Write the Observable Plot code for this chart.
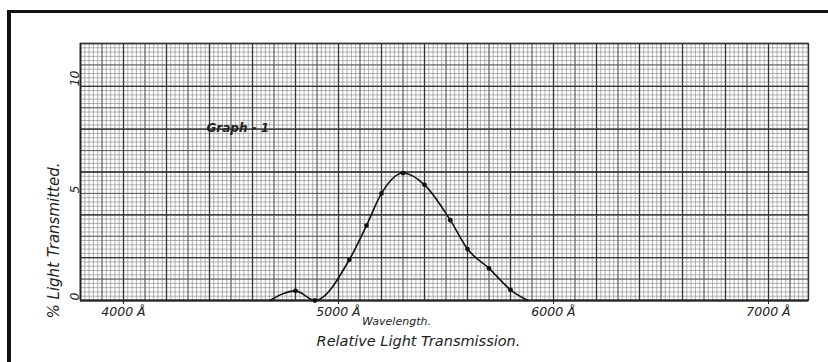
<!DOCTYPE html>
<html>
<head>
<meta charset="utf-8">
<script src="https://cdn.jsdelivr.net/npm/d3@7"></script>
<script src="https://cdn.jsdelivr.net/npm/@observablehq/plot@0.6"></script>
<style>
  body { margin: 0; background: #fff; }
  #wrap { position: relative; width: 828px; height: 362px; overflow: hidden; }
  #border { position: absolute; left: 7px; top: 10px; right: -10px; bottom: -10px;
            border-top: 3px solid #111; border-left: 4px solid #111; pointer-events: none; }
  svg { font-family: "DejaVu Sans", sans-serif; }
</style>
</head>
<body>
<div id="wrap"><div id="border"></div></div>
<script>
// Measured points (wavelength in Å, % light transmitted)
const wavelength   = [4680, 4800, 4890, 5050, 5130, 5200, 5300, 5400, 5520, 5600, 5700, 5800, 5880];
const transmission = [0,    0.45, 0,    1.9,  3.5,  5.0,  5.95, 5.4,  3.75, 2.4,  1.5,  0.5,  0];
const marked       = [false, true, true, true, true, true, true, true, true, true, true, true, false];

const xTicks = [4000, 5000, 6000, 7000];
const xTickLabels = ["4000 Å", "5000 Å", "6000 Å", "7000 Å"];
const yTicks = [0, 5, 10];
const yTickLabels = ["0", "5", "10"];

const xDomain = [3800, 7186];
const yDomain = [0, 12];

const curve = wavelength.map((w, i) => ({w, t: transmission[i], m: marked[i]}));
const dots = curve.filter(d => d.m);

const fineX = d3.range(3800, 7187, 20);
const midX = d3.range(3800, 7187, 100);
const heavyX = d3.range(3800, 7187, 200);
const fineY = d3.range(0, 12.001, 0.2);
const midY = d3.range(0, 12.001, 1);
const heavyY = d3.range(0, 12.001, 2);

const hand = {fontStyle: "italic", fill: "#222"};

const chart = Plot.plot({
  width: 828, height: 362,
  marginLeft: 80, marginRight: 20, marginTop: 43, marginBottom: 62,
  x: {domain: xDomain, axis: null},
  y: {domain: yDomain, axis: null},
  style: {background: "transparent", color: "#222"},
  marks: [
    Plot.ruleX(fineX, {stroke: "#888", strokeWidth: 0.65}),
    Plot.ruleY(fineY, {stroke: "#888", strokeWidth: 0.65}),
    Plot.ruleX(midX, {stroke: "#555", strokeWidth: 0.9}),
    Plot.ruleY(midY, {stroke: "#555", strokeWidth: 0.9}),
    Plot.ruleX(heavyX, {stroke: "#333", strokeWidth: 1.3}),
    Plot.ruleY(heavyY, {stroke: "#333", strokeWidth: 1.3}),
    Plot.frame({stroke: "#333", strokeWidth: 1.3}),
    Plot.ruleY([0], {stroke: "#222", strokeWidth: 2}),
    Plot.ruleX([3800], {stroke: "#222", strokeWidth: 1.6}),
    Plot.axisX({ticks: xTicks, tickFormat: (d) => xTickLabels[xTicks.indexOf(d)],
                tickSize: 4, tickPadding: 3, fontSize: 12.5, fontStyle: "italic", label: null}),
    Plot.text(yTicks, {y: d => d, text: d => yTickLabels[yTicks.indexOf(d)],
                frameAnchor: "left", dx: -6, rotate: -90, fontSize: 12.5, ...hand}),
    Plot.text(["% Light Transmitted."], {frameAnchor: "bottom-left", dx: -22, dy: -60,
                rotate: -90, textAnchor: "middle", fontSize: 15, letterSpacing: 2.5, ...hand}),
    Plot.text(["Graph - 1"], {frameAnchor: "top-left", dx: 126, dy: 80, fontSize: 12, fontWeight: "bold", ...hand}),
    Plot.text(["Wavelength."], {frameAnchor: "bottom", dx: -48, dy: 24, fontSize: 11, letterSpacing: 1, ...hand}),
    Plot.text(["Relative Light Transmission."], {frameAnchor: "bottom", dx: -26, dy: 45, fontSize: 14.5, letterSpacing: 1.5, ...hand}),
    Plot.line(curve, {x: "w", y: "t", curve: "monotone-x", stroke: "#111", strokeWidth: 1.6}),
    Plot.dot(dots, {x: "w", y: "t", r: 2.4, fill: "#111"})
  ]
});
document.getElementById("wrap").prepend(chart);
</script>
</body>
</html>
